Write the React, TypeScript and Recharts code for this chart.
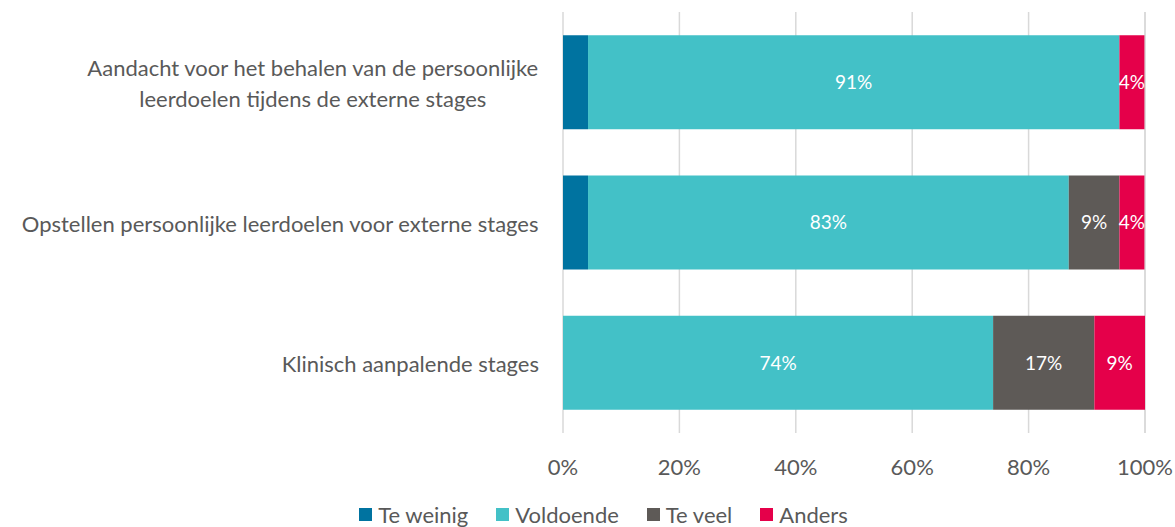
import React from 'react';
import { BarChart, Bar, XAxis, YAxis, CartesianGrid, Legend, LabelList } from 'recharts';

const categories = [
  ['Aandacht voor het behalen van de persoonlijke', 'leerdoelen tijdens de externe stages'],
  ['Opstellen persoonlijke leerdoelen voor externe stages'],
  ['Klinisch aanpalende stages'],
];
const teWeinig = [4.3, 4.3, 0];
const voldoende = [91.3, 82.6, 73.9];
const teVeel = [0, 8.7, 17.4];
const anders = [4.3, 4.3, 8.7];
const xTicks = [0, 20, 40, 60, 80, 100];

const series = [
  { key: 'teWeinig', name: 'Te weinig', color: '#0073A0', labels: false },
  { key: 'voldoende', name: 'Voldoende', color: '#43C1C7', labels: true },
  { key: 'teVeel', name: 'Te veel', color: '#5E5A57', labels: true },
  { key: 'anders', name: 'Anders', color: '#E5004A', labels: true },
];

const data = categories.map((lines, i) => ({
  name: lines.join(' '),
  lines,
  teWeinig: teWeinig[i],
  voldoende: voldoende[i],
  teVeel: teVeel[i],
  anders: anders[i],
}));

const FONT = 'Lato, "Open Sans", sans-serif';
const FONT_SIZE = 22;
const TEXT = '#595959';

// meet tekstbreedte om meerregelige labels gecentreerd te houden
function textWidth(s: string) {
  const c = document.createElement('canvas').getContext('2d');
  if (!c) return s.length * 10;
  c.font = `${FONT_SIZE}px ${FONT}`;
  return c.measureText(s).width;
}

function CategoryTick(props: any) {
  const { x, y, payload } = props;
  const row = data.find((d) => d.name === payload.value);
  const lines = row ? row.lines : [payload.value];
  const widths = lines.map(textWidth);
  const maxW = Math.max(...widths);
  const right = x - 16;
  const lh = 31;
  const start = y - ((lines.length - 1) * lh) / 2;
  return (
    <text fill={TEXT} fontSize={FONT_SIZE} fontFamily={FONT} textAnchor="middle" dominantBaseline="central">
      {lines.map((l, i) => (
        <tspan key={i} x={right - maxW / 2} y={start + i * lh}>
          {l}
        </tspan>
      ))}
    </text>
  );
}

function LegendContent() {
  return (
    <div style={{ display: 'flex', justifyContent: 'center', gap: 28, fontFamily: FONT, fontSize: FONT_SIZE, color: TEXT, height: 30, alignItems: 'center', paddingLeft: 62, paddingTop: 4, boxSizing: 'border-box' }}>
      {series.map((s) => (
        <div key={s.key} style={{ display: 'flex', alignItems: 'center', gap: 6 }}>
          <span style={{ width: 13, height: 13, background: s.color, display: 'inline-block' }} />
          <span>{s.name}</span>
        </div>
      ))}
    </div>
  );
}

export default function App() {
  return (
    <div style={{ position: 'absolute', left: 0, top: 0, background: '#fff' }}>
      <BarChart
        width={1175}
        height={527}
        data={data}
        layout="vertical"
        margin={{ top: 12, right: 30, bottom: 0, left: 0 }}
        barCategoryGap="16.5%"
      >
        <CartesianGrid horizontal={false} stroke="#D9D9D9" strokeWidth={1.5} />
        <XAxis
          type="number"
          domain={[0, 100]}
          ticks={xTicks}
          tickFormatter={(v) => `${v}%`}
          axisLine={false}
          tickLine={false}
          tick={{ fill: TEXT, fontSize: FONT_SIZE, fontFamily: FONT }}
          tickMargin={20}
          height={64}
        />
        <YAxis
          type="category"
          dataKey="name"
          width={563}
          axisLine={false}
          tickLine={false}
          tick={<CategoryTick />}
        />
        <Legend verticalAlign="bottom" content={<LegendContent />} />
        {series.map((s) => (
          <Bar key={s.key} dataKey={s.key} name={s.name} stackId="a" fill={s.color} isAnimationActive={false}>
            {s.labels && (
              <LabelList
                dataKey={s.key}
                position="center"
                fill="#fff"
                fontSize={19}
                fontFamily={FONT}
                formatter={(v: any) => (v > 0 ? `${Math.round(v)}%` : '')}
              />
            )}
          </Bar>
        ))}
      </BarChart>
    </div>
  );
}
